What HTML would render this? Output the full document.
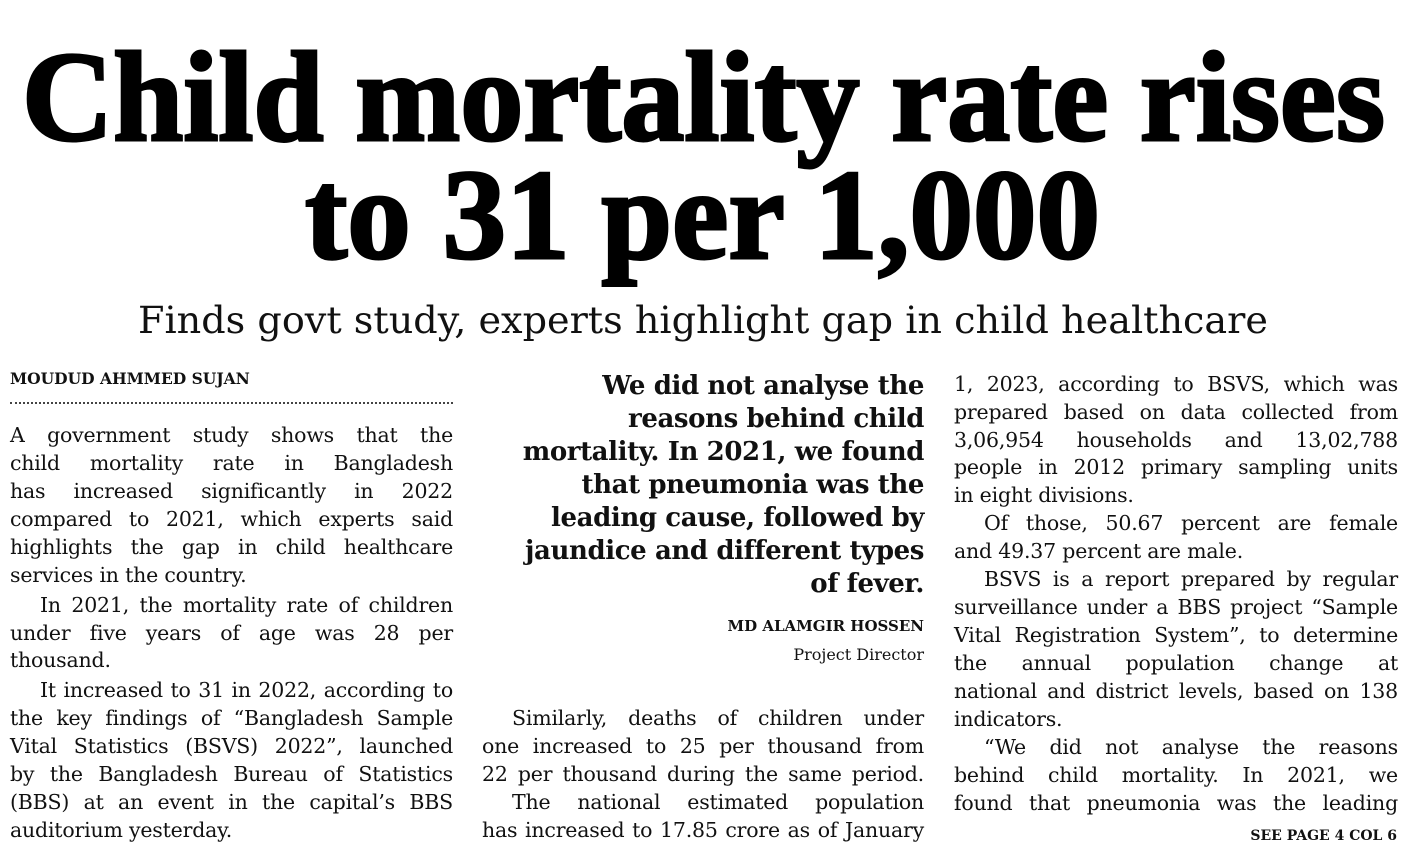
<!DOCTYPE html>
<html><head><meta charset="utf-8">
<style>
html,body{margin:0;padding:0;background:#fff;}
body{width:1407px;height:861px;position:relative;overflow:hidden;font-family:"DejaVu Serif","Liberation Serif",serif;color:#111;}
.l{position:absolute;font-size:20.5px;letter-spacing:-0.2px;line-height:28px;height:28px;white-space:nowrap;overflow:visible;}
.j{text-align:justify;text-align-last:justify;white-space:normal;}
.q{position:absolute;font-weight:bold;font-size:26px;line-height:33px;text-align:right;white-space:nowrap;letter-spacing:-0.4px;}
</style></head><body>
<svg width="1407" height="350" style="position:absolute;left:0;top:0" xmlns="http://www.w3.org/2000/svg">
<text x="22" y="140" font-family="Liberation Serif, serif" font-weight="bold" font-size="128" textLength="1363" lengthAdjust="spacingAndGlyphs" fill="#000" stroke="#000" stroke-width="3">Child mortality rate rises</text>
<text x="305" y="258" font-family="Liberation Serif, serif" font-weight="bold" font-size="128" textLength="795" lengthAdjust="spacingAndGlyphs" fill="#000" stroke="#000" stroke-width="3">to 31 per 1,000</text>
<text x="138" y="333" font-family="DejaVu Serif, serif" font-size="37" textLength="1130" lengthAdjust="spacingAndGlyphs" fill="#111">Finds govt study, experts highlight gap in child healthcare</text>
</svg>
<div style="position:absolute;left:10px;top:369px;font-weight:bold;font-size:15.5px;">MOUDUD AHMMED SUJAN</div>
<div style="position:absolute;left:10px;top:402px;width:443px;border-top:2px dotted #444;"></div>

<div>
<div class="l j" style="left:10px;top:421px;width:443px">A government study shows that the</div>
<div class="l j" style="left:10px;top:449px;width:443px">child mortality rate in Bangladesh</div>
<div class="l j" style="left:10px;top:477px;width:443px">has increased significantly in 2022</div>
<div class="l j" style="left:10px;top:505px;width:443px">compared to 2021, which experts said</div>
<div class="l j" style="left:10px;top:533px;width:443px">highlights the gap in child healthcare</div>
<div class="l" style="left:10px;top:561px;">services in the country.</div>
<div class="l j" style="left:40px;top:591px;width:413px">In 2021, the mortality rate of children</div>
<div class="l j" style="left:10px;top:619px;width:443px">under five years of age was 28 per</div>
<div class="l" style="left:10px;top:646px;">thousand.</div>
<div class="l j" style="left:40px;top:676px;width:413px">It increased to 31 in 2022, according to</div>
<div class="l j" style="left:10px;top:704px;width:443px">the key findings of “Bangladesh Sample</div>
<div class="l j" style="left:10px;top:732px;width:443px">Vital Statistics (BSVS) 2022”, launched</div>
<div class="l j" style="left:10px;top:760px;width:443px">by the Bangladesh Bureau of Statistics</div>
<div class="l j" style="left:10px;top:788px;width:443px">(BBS) at an event in the capital’s BBS</div>
<div class="l" style="left:10px;top:816px;">auditorium yesterday.</div>
</div>

<div style="position:absolute;left:482px;top:370px;width:442px;">
<div class="q" style="right:0;top:0">We did not analyse the</div>
<div class="q" style="right:0;top:33px">reasons behind child</div>
<div class="q" style="right:0;top:66px">mortality. In 2021, we found</div>
<div class="q" style="right:0;top:99px">that pneumonia was the</div>
<div class="q" style="right:0;top:132px">leading cause, followed by</div>
<div class="q" style="right:0;top:165px">jaundice and different types</div>
<div class="q" style="right:0;top:198px">of fever.</div>
</div>
<div style="position:absolute;right:483px;top:617px;font-weight:bold;font-size:15px;text-align:right;">MD ALAMGIR HOSSEN</div>
<div style="position:absolute;right:483px;top:645px;font-size:16px;text-align:right;">Project Director</div>

<div>
<div class="l j" style="left:512px;top:704px;width:412px">Similarly, deaths of children under</div>
<div class="l j" style="left:482px;top:732px;width:442px">one increased to 25 per thousand from</div>
<div class="l j" style="left:482px;top:760px;width:442px">22 per thousand during the same period.</div>
<div class="l j" style="left:512px;top:788px;width:412px">The national estimated population</div>
<div class="l j" style="left:482px;top:816px;width:442px">has increased to 17.85 crore as of January</div>
</div>

<div>
<div class="l j" style="left:954px;top:370px;width:444px">1, 2023, according to BSVS, which was</div>
<div class="l j" style="left:954px;top:398px;width:444px">prepared based on data collected from</div>
<div class="l j" style="left:954px;top:426px;width:444px">3,06,954 households and 13,02,788</div>
<div class="l j" style="left:954px;top:453px;width:444px">people in 2012 primary sampling units</div>
<div class="l" style="left:954px;top:481px;">in eight divisions.</div>
<div class="l j" style="left:984px;top:509px;width:414px">Of those, 50.67 percent are female</div>
<div class="l" style="left:954px;top:537px;">and 49.37 percent are male.</div>
<div class="l j" style="left:984px;top:565px;width:414px">BSVS is a report prepared by regular</div>
<div class="l j" style="left:954px;top:593px;width:444px">surveillance under a BBS project “Sample</div>
<div class="l j" style="left:954px;top:621px;width:444px">Vital Registration System”, to determine</div>
<div class="l j" style="left:954px;top:649px;width:444px">the annual population change at</div>
<div class="l j" style="left:954px;top:677px;width:444px">national and district levels, based on 138</div>
<div class="l" style="left:954px;top:705px;">indicators.</div>
<div class="l j" style="left:984px;top:733px;width:414px">“We did not analyse the reasons</div>
<div class="l j" style="left:954px;top:761px;width:444px">behind child mortality. In 2021, we</div>
<div class="l j" style="left:954px;top:789px;width:444px">found that pneumonia was the leading</div>
</div>
<div style="position:absolute;right:10px;top:828px;font-weight:bold;font-size:14px;">SEE PAGE 4 COL 6</div>
</body></html>
